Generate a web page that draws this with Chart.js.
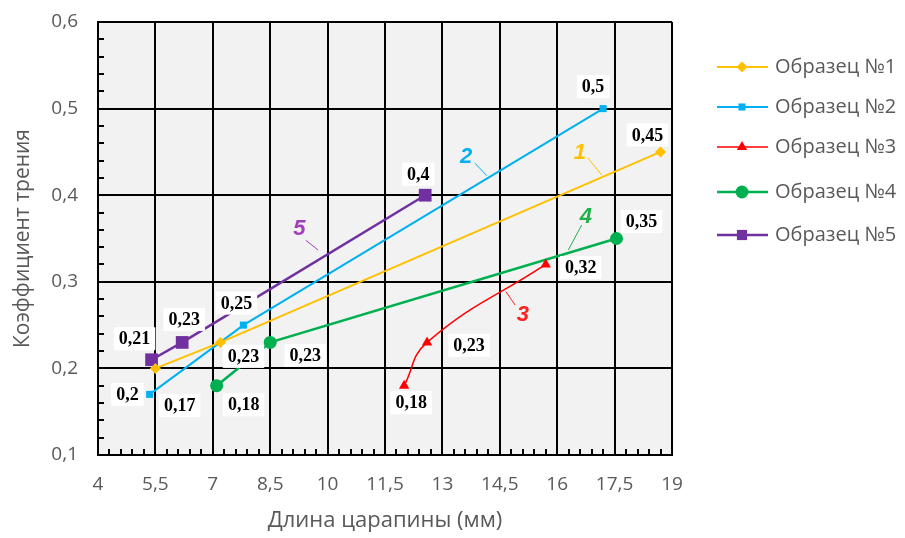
<!DOCTYPE html>
<html>
<head>
<meta charset="utf-8">
<script src="https://cdn.jsdelivr.net/npm/chart.js@4.4.1/dist/chart.umd.min.js"></script>
<style>
  html, body { margin: 0; padding: 0; background: #fff; }
  #wrap { width: 905px; height: 538px; }
</style>
</head>
<body>
<div id="wrap"><canvas id="chart"></canvas></div>
<script>
// данные
const seriesNames = ["Образец №1", "Образец №2", "Образец №3", "Образец №4", "Образец №5"];
const curveNumbers = ["1", "2", "3", "4", "5"];

const length1 = [5.5, 7.2, 18.7];
const friction1 = [0.2, 0.23, 0.45];
const length2 = [5.35, 7.8, 17.2];
const friction2 = [0.17, 0.25, 0.5];
const length3 = [12.0, 12.6, 15.7];
const friction3 = [0.18, 0.23, 0.32];
const length4 = [7.1, 8.5, 17.55];
const friction4 = [0.18, 0.23, 0.35];
const length5 = [5.4, 6.2, 12.55];
const friction5 = [0.21, 0.23, 0.4];

const xTicks = [4, 5.5, 7, 8.5, 10, 11.5, 13, 14.5, 16, 17.5, 19];
const yTicks = [0.1, 0.2, 0.3, 0.4, 0.5, 0.6];

// стили
const colors = ["#FFC000", "#00B0F0", "#FF0000", "#00B050", "#7030A0"];
const numberColors = ["#FFC000", "#00B0F0", "#FF2020", "#22B04B", "#A040B8"];
const pointStyles = ["rectRot", "rect", "triangle", "circle", "rect"];
const pointRadius = [5.5, 5, 6, 6.5, 9];
const lineWidths = [2, 2, 1.5, 2.5, 2.5];

// смещения подписей значений (px) относительно точки
const labelOffsets = [
  [[-28, 26], [23, 14], [-13, -17]],
  [[30, 11], [-7, -22], [-10, -22]],
  [[7, 17], [42, 3], [35, 3]],
  [[27, 19], [35, 13], [25, -17]],
  [[-17, -21], [2, -23], [-7, -21]]
];

// номера кривых с выносками (в координатах осей)
const numberPos = [[16.59, 0.449], [13.62, 0.4445], [15.10, 0.2617], [16.75, 0.375], [9.26, 0.3606]];
const leaderFrom = [[16.80, 0.443], [13.85, 0.437], [14.90, 0.2732], [16.64, 0.3656], [9.43, 0.348]];
const leaderTo = [[17.17, 0.423], [14.16, 0.4225], [14.66, 0.2886], [16.29, 0.3367], [9.75, 0.3367]];

const legendY = [67, 107, 147, 192, 235];

const xs = [length1, length2, length3, length4, length5];
const ys = [friction1, friction2, friction3, friction4, friction5];

const fmt = v => String(Math.round(v * 100) / 100).replace(".", ",");

Chart.defaults.font.family = "'Open Sans', 'Liberation Sans', sans-serif";

const datasets = seriesNames.map((name, i) => ({
  label: name,
  data: xs[i].map((x, j) => ({ x: x, y: ys[i][j] })),
  showLine: true,
  borderColor: colors[i],
  backgroundColor: colors[i],
  borderWidth: lineWidths[i],
  pointStyle: pointStyles[i],
  pointRadius: pointRadius[i],
  pointHoverRadius: pointRadius[i],
  pointBorderWidth: 0,
  tension: i === 2 ? 0.45 : 0
}));

function drawMarker(ctx, style, r, x, y, color) {
  ctx.save();
  ctx.fillStyle = color;
  ctx.strokeStyle = color;
  if (Chart.helpers && Chart.helpers.drawPoint) {
    Chart.helpers.drawPoint(ctx, { pointStyle: style, radius: r, rotation: 0, borderWidth: 0 }, x, y);
  } else {
    ctx.beginPath();
    ctx.arc(x, y, r, 0, Math.PI * 2);
    ctx.fill();
  }
  ctx.restore();
}

const decor = {
  id: "decor",
  beforeDraw(chart) {
    const { ctx, chartArea: a } = chart;
    ctx.save();
    ctx.fillStyle = "#F2F2F2";
    ctx.fillRect(a.left, a.top, a.right - a.left, a.bottom - a.top);
    ctx.restore();
  },
  beforeDatasetsDraw(chart) {
    const { ctx, chartArea: a, scales } = chart;
    ctx.save();
    ctx.strokeStyle = "#000";
    ctx.lineWidth = 2;
    ctx.beginPath();
    // мелкие деления по Y
    for (let k = 0; k <= 25; k++) {
      if (k % 5 === 0) continue;
      const py = Math.round(scales.y.getPixelForValue(0.1 + k * 0.02));
      ctx.moveTo(a.left, py);
      ctx.lineTo(a.left + 6, py);
    }
    // мелкие деления по X
    for (let k = 0; k <= 50; k++) {
      if (k % 5 === 0) continue;
      const px = Math.round(scales.x.getPixelForValue(4 + k * 0.3));
      ctx.moveTo(px, a.bottom);
      ctx.lineTo(px, a.bottom - 6);
    }
    ctx.stroke();
    ctx.restore();
  },
  afterDatasetsDraw(chart) {
    const { ctx, scales } = chart;
    ctx.save();
    // выноски и номера кривых
    for (let i = 0; i < 5; i++) {
      ctx.strokeStyle = numberColors[i];
      ctx.lineWidth = 1;
      ctx.beginPath();
      ctx.moveTo(scales.x.getPixelForValue(leaderFrom[i][0]), scales.y.getPixelForValue(leaderFrom[i][1]));
      ctx.lineTo(scales.x.getPixelForValue(leaderTo[i][0]), scales.y.getPixelForValue(leaderTo[i][1]));
      ctx.stroke();
      ctx.fillStyle = numberColors[i];
      ctx.font = "italic bold 22px 'Liberation Sans', Arial, sans-serif";
      ctx.textAlign = "center";
      ctx.textBaseline = "middle";
      ctx.fillText(curveNumbers[i], scales.x.getPixelForValue(numberPos[i][0]), scales.y.getPixelForValue(numberPos[i][1]));
    }
    // подписи значений
    ctx.font = "bold 18px 'Liberation Serif', 'Times New Roman', serif";
    ctx.textAlign = "center";
    ctx.textBaseline = "middle";
    chart.data.datasets.forEach((ds, i) => {
      const meta = chart.getDatasetMeta(i);
      meta.data.forEach((pt, j) => {
        const txt = fmt(ds.data[j].y);
        const cx = pt.x + labelOffsets[i][j][0];
        const cy = pt.y + labelOffsets[i][j][1];
        const w = ctx.measureText(txt).width + 10;
        ctx.fillStyle = "#fff";
        ctx.fillRect(cx - w / 2, cy - 11.5, w, 23);
        ctx.fillStyle = "#000";
        ctx.fillText(txt, cx, cy + 1);
      });
    });
    ctx.restore();
  },
  afterDraw(chart) {
    const { ctx } = chart;
    ctx.save();
    ctx.font = "20px 'Open Sans', 'Liberation Sans', sans-serif";
    ctx.textAlign = "left";
    ctx.textBaseline = "middle";
    for (let i = 0; i < 5; i++) {
      const y = legendY[i];
      ctx.strokeStyle = colors[i];
      ctx.lineWidth = lineWidths[i];
      ctx.beginPath();
      ctx.moveTo(717, y);
      ctx.lineTo(768, y);
      ctx.stroke();
      drawMarker(ctx, pointStyles[i], pointRadius[i] * (i === 4 ? 0.8 : 1), 742, y, colors[i]);
      ctx.fillStyle = "#595959";
      ctx.fillText(seriesNames[i], 775, y);
    }
    ctx.restore();
  }
};

new Chart(document.getElementById("chart"), {
  type: "scatter",
  data: { datasets: datasets },
  plugins: [decor],
  options: {
    responsive: true,
    maintainAspectRatio: false,
    animation: false,
    events: [],
    layout: { padding: { left: 0, right: 233, top: 22, bottom: 0 } },
    plugins: { legend: { display: false }, tooltip: { enabled: false } },
    scales: {
      x: {
        type: "linear",
        min: 4,
        max: 19,
        afterBuildTicks: s => { s.ticks = xTicks.map(v => ({ value: v })); },
        afterFit: s => { s.height = 83; s.paddingLeft = 0; s.paddingRight = 0; },
        grid: { color: "#000", lineWidth: 2, drawTicks: false },
        border: { color: "#000", width: 2 },
        ticks: {
          padding: 18,
          color: "#595959",
          font: { size: 19 },
          callback: v => fmt(v)
        },
        title: {
          display: true,
          text: "Длина царапины (мм)",
          color: "#595959",
          font: { size: 22 },
          padding: { top: 4 }
        }
      },
      y: {
        type: "linear",
        min: 0.1,
        max: 0.6,
        afterBuildTicks: s => { s.ticks = yTicks.map(v => ({ value: v })); },
        afterFit: s => { s.width = 98; s.paddingTop = 0; s.paddingBottom = 0; },
        grid: { color: "#000", lineWidth: 2, drawTicks: false },
        border: { color: "#000", width: 2 },
        ticks: {
          padding: 20,
          color: "#595959",
          font: { size: 19 },
          callback: v => fmt(v)
        },
        title: {
          display: true,
          text: "Коэффициент трения",
          color: "#595959",
          font: { size: 21 },
          padding: { top: 10, bottom: 2 }
        }
      }
    }
  }
});
</script>
</body>
</html>
